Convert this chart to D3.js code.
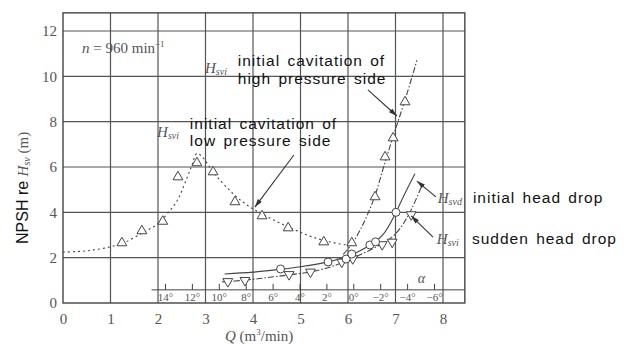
<!DOCTYPE html>
<html>
<head>
<meta charset="utf-8">
<script src="https://cdn.jsdelivr.net/npm/d3@7"></script>
<style>
  body { margin: 0; background: #fff; }
  svg { display: block; }
  .num { font-family: "Liberation Serif", "DejaVu Serif", serif; fill: #555; }
  .note { font-family: "Liberation Sans", Arial, sans-serif; fill: #111; }
</style>
</head>
<body>
<div id="chart"></div>
<script>
// axis ticks
const qTicks = [0, 1, 2, 3, 4, 5, 6, 7, 8];
const hTicks = [0, 2, 4, 6, 8, 10, 12];
const alphaTicks = [14, 12, 10, 8, 6, 4, 2, 0, -2, -4, -6];

// H_svi, low pressure side (dotted curve + triangles)
const lowQ = [0, 0.5, 1.0, 1.3, 1.7, 2.0, 2.2, 2.4, 2.55, 2.7, 2.82, 2.95, 3.15, 3.4, 3.7, 4.0, 4.4, 4.8, 5.2, 5.6, 6.0];
const lowH = [2.25, 2.3, 2.48, 2.68, 3.12, 3.5, 3.95, 4.5, 5.2, 6.0, 6.6, 6.4, 5.8, 5.2, 4.6, 4.15, 3.7, 3.3, 2.95, 2.7, 2.55];
const lowPtQ = [1.24, 1.66, 2.1, 2.42, 2.82, 3.16, 3.62, 4.19, 4.74, 5.49];
const lowPtH = [2.65, 3.18, 3.6, 5.56, 6.18, 5.78, 4.46, 3.84, 3.31, 2.69];

// H_svi, high pressure side (dash-dot + triangles)
const highQ = [5.9, 6.08, 6.25, 6.4, 6.57, 6.75, 6.95, 7.2, 7.45];
const highH = [2.15, 2.6, 3.2, 3.85, 4.75, 6.0, 7.35, 8.95, 10.7];
const highPtQ = [6.08, 6.57, 6.78, 6.95, 7.2];
const highPtH = [2.65, 4.68, 6.44, 7.28, 8.87];

// H_svd, initial head drop (solid + circles)
const svdQ = [3.4, 4.0, 4.5, 5.0, 5.5, 5.9, 6.2, 6.5, 6.75, 7.0, 7.1, 7.25, 7.41];
const svdH = [1.28, 1.36, 1.47, 1.6, 1.78, 2.0, 2.25, 2.6, 3.05, 3.95, 4.4, 5.05, 5.7];
const svdPtQ = [4.58, 5.58, 5.96, 6.08, 6.46, 6.58, 7.01];
const svdPtH = [1.5, 1.81, 1.94, 2.16, 2.56, 2.7, 4.0];

// H_svi, sudden head drop (dash-dot + inverted triangles)
const sviQ = [3.35, 3.8, 4.3, 4.8, 5.2, 5.6, 5.9, 6.1, 6.4, 6.7, 6.95, 7.15, 7.35, 7.56];
const sviH = [0.93, 1.0, 1.12, 1.25, 1.37, 1.57, 1.8, 1.98, 2.27, 2.6, 2.95, 3.45, 4.2, 5.2];
const sviPtQ = [3.47, 3.83, 4.76, 5.21, 5.87, 6.1, 6.72, 6.93, 7.33];
const sviPtH = [0.95, 1.0, 1.26, 1.37, 1.81, 1.96, 2.58, 2.69, 3.9];

let width = 639;
let height = 345;

let svg = d3.select("#chart").append("svg")
    .attr("width", width)
    .attr("height", height);

const x = d3.scaleLinear().domain([0, 8]).range([63, 443]);
const y = d3.scaleLinear().domain([0, 12]).range([303, 31]);
const a = d3.scaleLinear().domain([14, -6]).range([165, 434]);
const qMax = 8.46, hMax = 12.8;

svg.append("defs").append("marker")
    .attr("id", "arrow")
    .attr("viewBox", "0 0 10 6")
    .attr("refX", 10).attr("refY", 3)
    .attr("markerWidth", 9).attr("markerHeight", 5)
    .attr("markerUnits", "userSpaceOnUse")
    .attr("orient", "auto")
    .append("path")
    .attr("d", "M0,0L10,3L0,6Z")
    .attr("fill", "#333");

// grid
let grid = svg.append("g").attr("stroke", "#555").attr("stroke-width", 1.2);
grid.selectAll(".vg").data(qTicks.slice(1)).enter().append("line")
    .attr("x1", d => x(d)).attr("x2", d => x(d))
    .attr("y1", y(0)).attr("y2", y(hMax));
grid.selectAll(".hg").data(hTicks.slice(1)).enter().append("line")
    .attr("x1", x(0)).attr("x2", x(qMax))
    .attr("y1", d => y(d)).attr("y2", d => y(d));
svg.append("rect")
    .attr("x", x(0)).attr("y", y(hMax))
    .attr("width", x(qMax) - x(0)).attr("height", y(0) - y(hMax))
    .attr("fill", "none").attr("stroke", "#444").attr("stroke-width", 1.4);

// main axes labels
let xAxis = svg.append("g")
    .attr("transform", `translate(0,${y(0)})`)
    .call(d3.axisBottom(x).tickValues(qTicks).tickSize(0).tickPadding(10));
xAxis.select(".domain").remove();
xAxis.selectAll("text").attr("class", "num").style("font-size", "15px").attr("font-family", null);

let yAxis = svg.append("g")
    .attr("transform", `translate(${x(0)},0)`)
    .call(d3.axisLeft(y).tickValues(hTicks).tickSize(0).tickPadding(6));
yAxis.select(".domain").remove();
yAxis.selectAll("text").attr("class", "num").style("font-size", "15px").attr("font-family", null);

// alpha (angle) scale inside the plot
let alphaAxis = svg.append("g")
    .attr("transform", `translate(0,${y(0.58)})`)
    .call(d3.axisBottom(a).tickValues(alphaTicks).tickSizeInner(-6).tickSizeOuter(0).tickPadding(3)
        .tickFormat(d => (d < 0 ? "\u2212" + (-d) : d) + "\u00b0"));
alphaAxis.select(".domain").attr("d", `M${a(15)},0H${x(qMax)}`).attr("stroke", "#444");
alphaAxis.selectAll(".tick line").attr("stroke", "#444");
alphaAxis.selectAll("text").attr("class", "num").style("font-size", "11px").attr("font-family", null);
svg.append("text").attr("class", "num")
    .attr("x", a(-4.8)).attr("y", y(0.88))
    .style("font-size", "14px").style("font-style", "italic").text("\u03b1");

// curves
const pts = (qs, hs) => qs.map((q, i) => [q, hs[i]]);
const line = d3.line().x(d => x(d[0])).y(d => y(d[1])).curve(d3.curveCatmullRom.alpha(0.5));
let curves = svg.append("g").attr("fill", "none").attr("stroke", "#444").attr("stroke-width", 1.1);
curves.append("path").attr("d", line(pts(lowQ, lowH))).attr("stroke-dasharray", "2,3");
curves.append("path").attr("d", line(pts(highQ, highH))).attr("stroke-dasharray", "6,2,1.5,2");
curves.append("path").attr("d", line(pts(svdQ, svdH)));
curves.append("path").attr("d", line(pts(sviQ, sviH))).attr("stroke-dasharray", "6,2,1.5,2");

// markers
const tri = d3.symbol(d3.symbolTriangle, 42);
function triangles(qs, hs, flip) {
    svg.append("g").selectAll("path").data(pts(qs, hs)).enter().append("path")
        .attr("d", tri)
        .attr("transform", d => `translate(${x(d[0])},${y(d[1])})` + (flip ? " rotate(180)" : ""))
        .attr("fill", "#fff").attr("stroke", "#444").attr("stroke-width", 1);
}
triangles(lowPtQ, lowPtH, false);
triangles(highPtQ, highPtH, false);
triangles(sviPtQ, sviPtH, true);
svg.append("g").selectAll("circle").data(pts(svdPtQ, svdPtH)).enter().append("circle")
    .attr("cx", d => x(d[0])).attr("cy", d => y(d[1])).attr("r", 4)
    .attr("fill", "#fff").attr("stroke", "#444").attr("stroke-width", 1);

// annotation arrows [from, to] in data units
const arrows = [
    [[6.42, 9.40], [7.03, 8.25]],
    [[4.86, 6.53], [4.04, 4.23]],
    [[7.85, 4.68], [7.45, 5.38]],
    [[7.79, 2.91], [7.33, 3.84]]
];
svg.append("g").selectAll("line").data(arrows).enter().append("line")
    .attr("x1", d => x(d[0][0])).attr("y1", d => y(d[0][1]))
    .attr("x2", d => x(d[1][0])).attr("y2", d => y(d[1][1]))
    .attr("stroke", "#333").attr("stroke-width", 1.1)
    .attr("marker-end", "url(#arrow)");

// H symbols with subscripts
function hsym(q, h, sub) {
    let t = svg.append("text").attr("class", "num")
        .attr("x", x(q)).attr("y", y(h))
        .style("font-size", "15px").style("font-style", "italic");
    t.append("tspan").text("H");
    t.append("tspan").attr("dy", 2).style("font-size", "10px").text(sub);
}
hsym(1.98, 7.32, "svi");
hsym(2.99, 10.15, "svi");
hsym(7.89, 4.41, "svd");
hsym(7.87, 2.60, "svi");

// two-line notes are separate texts, one per line
function note(q, h, lines) {
    lines.forEach((s, i) => svg.append("text").attr("class", "note")
        .attr("x", x(q)).attr("y", y(h) + i * 17.5)
        .style("font-size", "15.5px").style("letter-spacing", "1px").style("word-spacing", "2px")
        .text(s));
}
note(3.68, 10.45, ["initial cavitation of", "high pressure side"]);
note(2.67, 7.68, ["initial cavitation of", "low pressure side"]);
note(8.63, 4.41, ["initial head drop"]);
note(8.61, 2.60, ["sudden head drop"]);

// speed note
let n = svg.append("text").attr("class", "num")
    .attr("x", x(0.4)).attr("y", y(11.05)).style("font-size", "15px");
n.append("tspan").style("font-style", "italic").text("n");
n.append("tspan").text(" = 960 min");
n.append("tspan").attr("dy", -6).style("font-size", "9px").text("\u22121");

// x title
let xt = svg.append("text").attr("class", "num")
    .attr("x", 225).attr("y", 341).style("font-size", "15px");
xt.append("tspan").style("font-style", "italic").text("Q");
xt.append("tspan").text(" (m");
xt.append("tspan").attr("dy", -6).style("font-size", "9px").text("3");
xt.append("tspan").attr("dy", 6).text("/min)");

// y title
let yt = svg.append("text").attr("transform", "translate(28,244) rotate(-90)");
yt.append("tspan").attr("class", "note").style("font-size", "16px").text("NPSH re ");
yt.append("tspan").attr("class", "num").style("font-size", "15px").style("font-style", "italic").text("H");
yt.append("tspan").attr("class", "num").attr("dy", 2).style("font-size", "10px").style("font-style", "italic").text("sv");
yt.append("tspan").attr("class", "num").attr("dy", -2).style("font-size", "15px").text(" (m)");
</script>
</body>
</html>
